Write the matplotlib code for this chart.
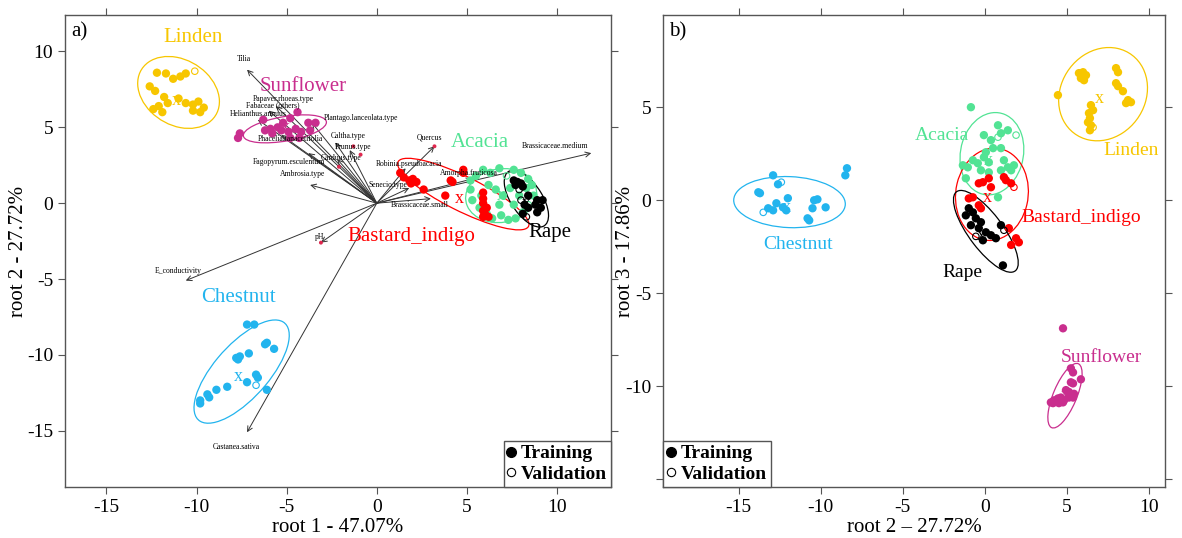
import matplotlib
matplotlib.use("Agg")
import matplotlib.pyplot as plt
from matplotlib.patches import Ellipse
from matplotlib.lines import Line2D

plt.rcParams['font.family'] = ['Liberation Serif', 'DejaVu Serif']
plt.rcParams['axes.unicode_minus'] = False

# colours of the six honey types
colors = {
    "Linden": "#F7C600",
    "Sunflower": "#C92E8E",
    "Acacia": "#52E394",
    "Chestnut": "#22B4EE",
    "Bastard_indigo": "#FF0000",
    "Rape": "#000000",
}

# ---------------- panel a: root 1 vs root 2 ----------------
a_linden_x = [-12.2, -11.7, -11.3, -10.9, -10.6, -12.6, -12.3, -11.8, -11.0, -10.6, -10.2, -9.9, -9.6, -10.2, -9.8, -12.1, -12.4, -11.9, -11.6]
a_linden_y = [8.6, 8.55, 8.2, 8.35, 8.55, 7.7, 7.4, 7.0, 6.9, 6.6, 6.5, 6.7, 6.3, 6.1, 6.0, 6.4, 6.2, 6.0, 6.6]
a_linden_vx = [-10.1]
a_linden_vy = [8.7]

a_sunflower_x = [-4.4, -4.8, -5.2, -5.5, -5.9, -6.2, -5.8, -5.3, -4.9, -4.5, -4.2, -3.8, -3.4, -3.7, -6.3, -4.8, -4.3, -7.7, -7.6]
a_sunflower_y = [6.0, 5.6, 5.3, 5.0, 4.9, 4.8, 4.6, 4.8, 4.7, 4.9, 4.7, 5.3, 5.3, 4.8, 5.5, 4.3, 4.3, 4.3, 4.6]
a_sunflower_vx = []
a_sunflower_vy = []

a_acacia_x = [5.2, 5.5, 5.9, 6.3, 6.8, 7.6, 8.0, 8.4, 8.6, 8.7, 8.1, 7.7, 7.3, 6.9, 6.4, 6.1, 5.7, 5.3, 5.2, 6.2, 6.6, 7.0, 7.4, 7.9, 5.8, 8.3, 6.8, 7.6]
a_acacia_y = [1.5, 1.8, 2.2, 2.0, 2.3, 2.2, 2.0, 1.6, 1.2, 0.5, -0.6, -1.0, -1.1, -0.8, -1.0, -0.7, -0.3, 0.2, 0.9, 1.2, 0.9, 0.5, 1.0, 0.5, 0.5, 1.0, -0.1, -0.1]
a_acacia_vx = [7.2, 8.4]
a_acacia_vy = [1.8, -0.1]

a_chestnut_x = [-7.2, -6.8, -6.1, -6.2, -5.7, -7.1, -7.6, -7.8, -7.7, -6.7, -6.6, -7.2, -6.1, -8.3, -8.9, -9.4, -9.3, -9.8, -9.8]
a_chestnut_y = [-8.0, -8.0, -9.2, -9.3, -9.6, -9.9, -10.1, -10.2, -10.3, -11.3, -11.5, -11.8, -12.3, -12.1, -12.3, -12.6, -12.8, -13.0, -13.2]
a_chestnut_vx = [-6.7]
a_chestnut_vy = [-12.0]

a_bastard_x = [1.3, 1.5, 1.8, 2.0, 2.2, 1.9, 2.6, 4.1, 4.2, 4.8, 4.8, 3.8, 5.9, 5.9, 5.9, 6.1, 5.9, 6.0, 5.9, 6.2]
a_bastard_y = [2.0, 1.7, 1.5, 1.6, 1.4, 1.3, 0.9, 1.5, 1.4, 2.0, 2.2, 0.5, 0.7, 0.3, 0.0, -0.3, -0.5, -0.7, -0.9, -0.9]
a_bastard_vx = []
a_bastard_vy = []

a_rape_x = [7.6, 7.8, 8.0, 7.7, 8.1, 8.4, 8.9, 9.2, 8.8, 9.1, 8.9, 8.2, 8.1, 8.4]
a_rape_y = [1.5, 1.4, 1.3, 1.2, 1.1, 0.5, 0.2, 0.2, -0.1, -0.3, -0.6, -0.1, -0.7, -0.3]
a_rape_vx = [7.9, 8.0, 8.3]
a_rape_vy = [0.9, 0.2, -0.9]

# group centroids (x) and labels
a_center = {"Linden": (-11.1, 6.8), "Sunflower": (-5.1, 5.0), "Acacia": (6.9, 0.5),
            "Chestnut": (-7.7, -11.4), "Bastard_indigo": (4.6, 0.3), "Rape": (8.3, 0.0)}
a_label = {"Linden": (-10.2, 10.9), "Sunflower": (-4.1, 7.7), "Acacia": (5.7, 4.0),
           "Chestnut": (-7.7, -6.2), "Bastard_indigo": (1.9, -2.2), "Rape": (9.6, -1.9)}
# ellipses: center x, center y, semi-major, semi-minor, angle
a_ellipse = {"Linden": (-11.0, 7.3, 2.6, 2.0, -50), "Sunflower": (-5.1, 4.9, 2.35, 0.8, 12),
             "Acacia": (6.9, 0.5, 2.0, 1.75, 20), "Chestnut": (-7.5, -11.1, 4.0, 1.6, 55),
             "Bastard_indigo": (4.8, 0.6, 4.2, 1.1, -31), "Rape": (8.3, 0.3, 2.05, 0.9, -63)}

# variable loadings: name, arrow tip, label position
var_names = ["Tilia", "Papaver.rhoeas.type", "Fabaceae (others)", "Helianthus.annuus",
             "Plantago.lanceolata.type", "Phacelia.tanacetifolia", "Caltha.type", "Prunus.type",
             "Carduus.type", "Fagopyrum.esculentum", "Ambrosia.type", "Quercus",
             "Robinia.pseudoacacia", "Senecio.type", "Amorpha.fruticosa", "Brassicaceae.small",
             "Brassicaceae.medium", "pH", "E_conductivity", "Castanea.sativa"]
var_tip_x = [-7.2, -5.6, -6.0, -6.6, -3.6, -5.3, -2.3, -1.5, -2.2, -3.8, -3.7, 3.2, 1.6, 1.8, 5.3, 3.0, 11.9, -3.1, -10.6, -7.2]
var_tip_y = [8.8, 6.4, 6.1, 5.5, 5.3, 4.5, 4.0, 3.5, 2.9, 3.3, 1.2, 3.75, 2.3, 1.0, 1.6, 0.3, 3.3, -2.6, -5.1, -15.1]
var_lab_x = [-7.4, -5.2, -5.8, -6.6, -0.9, -4.8, -1.6, -1.3, -2.0, -4.9, -4.1, 2.9, 1.8, 0.6, 5.1, 2.4, 9.9, -3.2, -11.0, -7.8]
var_lab_y = [9.5, 6.85, 6.45, 5.9, 5.6, 4.2, 4.4, 3.7, 3.0, 2.7, 1.9, 4.3, 2.6, 1.2, 2.0, -0.1, 3.8, -2.2, -4.5, -16.1]
dot_x = [-3.1, 3.2, -1.3, -0.9, -2.1, 2.6]
dot_y = [-2.6, 3.75, 3.75, 3.2, 2.4, 0.8]

# ---------------- panel b: root 2 vs root 3 ----------------
b_linden_x = [5.73, 5.98, 6.16, 5.85, 6.04, 7.99, 8.11, 7.99, 8.11, 8.41, 8.72, 8.9, 8.6, 6.46, 6.59, 6.34, 6.4, 6.28, 6.46, 6.4, 4.45]
b_linden_y = [6.83, 6.88, 6.72, 6.56, 6.45, 7.1, 6.88, 6.29, 6.13, 5.86, 5.38, 5.27, 5.22, 5.11, 4.84, 4.68, 4.41, 4.19, 4.03, 3.76, 5.65]
b_linden_vx = [6.59]
b_linden_vy = [3.92]

b_sunflower_x = [4.76, 5.24, 5.37, 5.85, 5.24, 5.37, 4.94, 5.12, 4.63, 4.45, 4.21, 4.02, 4.82, 5.12, 5.37, 4.51, 4.15, 5.43, 4.76]
b_sunflower_y = [-6.88, -9.03, -9.25, -9.62, -9.78, -9.84, -10.2, -10.3, -10.6, -10.65, -10.75, -10.86, -10.75, -10.6, -10.6, -10.9, -10.9, -10.4, -10.86]
b_sunflower_vx = []
b_sunflower_vy = []

b_acacia_x = [-0.85, 0.8, 1.4, 0.98, -0.06, 0.37, 0.06, 0.5, 0.98, -0.06, -0.73, -0.43, -1.04, -1.34, 0.24, 1.16, 1.4, 1.77, 0.98, 0.24, -0.24, 1.6, 0.8, -1.16]
b_acacia_y = [5.0, 4.03, 3.76, 3.6, 3.5, 3.23, 2.58, 2.8, 2.8, 2.31, 2.15, 1.99, 1.77, 1.88, 2.04, 2.15, 1.77, 1.88, 1.61, 1.5, 1.61, 1.61, 0.16, 1.18]
b_acacia_vx = [1.9, 0.8]
b_acacia_vy = [3.5, 3.39]

b_chestnut_x = [-12.9, -12.6, -13.8, -13.7, -12.0, -12.7, -12.3, -12.1, -13.2, -12.9, -10.4, -10.2, -10.5, -9.7, -10.8, -10.7, -8.4, -8.5]
b_chestnut_y = [1.34, 0.86, 0.43, 0.38, 0.11, -0.16, -0.38, -0.54, -0.43, -0.54, 0.0, 0.05, -0.43, -0.38, -0.97, -1.08, 1.72, 1.34]
b_chestnut_vx = [-12.4, -13.5]
b_chestnut_vy = [0.97, -0.65]

b_bastard_x = [0.24, -0.12, -0.37, 1.16, 1.28, 1.6, 0.37, -0.73, -0.98, -0.37, -0.24, 1.46, 1.9, 2.07, 1.6]
b_bastard_y = [1.18, 0.97, 0.91, 1.24, 1.08, 0.91, 0.7, 0.16, 0.1, -0.27, -0.43, -1.5, -2.04, -2.26, -2.4]
b_bastard_vx = [1.77]
b_bastard_vy = [0.7]

b_rape_x = [-0.98, -0.73, -1.16, -0.55, -0.24, -0.85, -0.37, 0.06, 0.37, 0.67, -0.12, 0.98, 1.1]
b_rape_y = [-0.43, -0.65, -0.81, -0.97, -1.18, -1.34, -1.5, -1.72, -1.88, -2.04, -2.15, -1.34, -3.5]
b_rape_vx = [1.16, -0.55]
b_rape_vy = [-1.61, -1.94]

b_center = {"Linden": (6.95, 5.48), "Sunflower": (4.9, -10.5), "Acacia": (0.24, 2.15),
            "Chestnut": (-12.1, -0.4), "Bastard_indigo": (0.18, 0.16), "Rape": (-0.24, -1.88)}
b_label = {"Linden": (8.9, 2.7), "Sunflower": (7.07, -8.44), "Acacia": (-2.6, 3.5),
           "Chestnut": (-11.4, -2.4), "Bastard_indigo": (5.85, -0.9), "Rape": (-1.34, -3.9)}
b_ellipse = {"Linden": (7.2, 5.7, 2.8, 2.4, 30), "Sunflower": (4.88, -10.5, 1.9, 0.7, 64),
             "Acacia": (0.43, 2.5, 2.25, 1.9, 70), "Chestnut": (-11.9, -0.1, 3.4, 1.37, -2),
             "Bastard_indigo": (0.43, 0.32, 2.5, 2.2, 75), "Rape": (0.06, -1.67, 2.78, 1.0, -49)}

ticks = [-15, -10, -5, 0, 5, 10]
a_yticklabels = ["-15", "-10", "-5", "0", "5", "10"]
b_yticks = [-15, -10, -5, 0, 5]
b_yticklabels = ["", "-10", "-5", "0", "5"]


def draw_groups(ax, pts, centers, labels, ellipses, label_size):
    for name, (tx, ty, vx, vy) in pts.items():
        c = colors[name]
        ax.scatter(tx, ty, s=36, color=c, edgecolors='none', zorder=3)
        ax.scatter(vx, vy, s=22, facecolors='none', edgecolors=c, linewidths=0.8, zorder=3)
        cx, cy, a, b, ang = ellipses[name]
        ax.add_patch(Ellipse((cx, cy), 2 * a, 2 * b, angle=ang, fill=False,
                             edgecolor=c, lw=0.9, zorder=2))
        ax.text(*centers[name], "x", color=c, fontsize=13, ha='center', va='center', zorder=4)
        ax.text(*labels[name], name, color=c, fontsize=label_size, ha='center', va='center', zorder=4)


def style_axes(ax, xlim, ylim, yticks, yticklabels, xlabel, ylabel, tag, ylab_x):
    ax.set_xlim(xlim)
    ax.set_ylim(ylim)
    ax.set_xticks(ticks)
    ax.set_xticklabels([str(t) for t in ticks])
    ax.set_yticks(yticks)
    ax.set_yticklabels(yticklabels)
    ax.tick_params(direction='out', length=5, width=0.8, color='#555555', labelsize=14,
                   top=True, right=True, labeltop=False, labelright=False)
    for s in ax.spines.values():
        s.set_color('#555555')
        s.set_linewidth(1.0)
    ax.set_xlabel(xlabel, fontsize=15, labelpad=2)
    ax.set_ylabel(ylabel, fontsize=15)
    ax.yaxis.set_label_coords(ylab_x, 0.5)
    ax.text(0.012, 0.985, tag, transform=ax.transAxes, fontsize=15, ha='left', va='top')


def legend(ax, loc):
    handles = [Line2D([], [], marker='o', ls='', color='black', markersize=7),
               Line2D([], [], marker='o', ls='', markerfacecolor='white', markeredgecolor='black',
                      markersize=6, markeredgewidth=0.8)]
    leg = ax.legend(handles, ["Training", "Validation"], loc=loc, borderaxespad=0,
                    prop={'weight': 'bold', 'size': 14}, handlelength=0.4, handletextpad=0.3,
                    borderpad=0.2, labelspacing=0.15, fancybox=False, framealpha=1)
    leg.get_frame().set_edgecolor('#555555')
    leg.get_frame().set_linewidth(1.0)


def main():
    fig = plt.figure(figsize=(11.82, 5.38), dpi=100)
    ax1 = fig.add_axes([0.055, 0.095, 0.462, 0.877])
    ax2 = fig.add_axes([0.561, 0.095, 0.425, 0.877])

    # panel a
    for i, name in enumerate(var_names):
        ax1.annotate("", xy=(var_tip_x[i], var_tip_y[i]), xytext=(0, 0),
                     arrowprops=dict(arrowstyle='->', color='#333333', lw=0.7,
                                     mutation_scale=9, shrinkA=0, shrinkB=0), zorder=1)
        ax1.text(var_lab_x[i], var_lab_y[i], name, fontsize=5.5, ha='center', va='center', zorder=5)
    ax1.scatter(dot_x, dot_y, s=8, color='#E0284F', edgecolors='none', zorder=3)

    pts_a = {
        "Linden": (a_linden_x, a_linden_y, a_linden_vx, a_linden_vy),
        "Sunflower": (a_sunflower_x, a_sunflower_y, a_sunflower_vx, a_sunflower_vy),
        "Acacia": (a_acacia_x, a_acacia_y, a_acacia_vx, a_acacia_vy),
        "Chestnut": (a_chestnut_x, a_chestnut_y, a_chestnut_vx, a_chestnut_vy),
        "Bastard_indigo": (a_bastard_x, a_bastard_y, a_bastard_vx, a_bastard_vy),
        "Rape": (a_rape_x, a_rape_y, a_rape_vx, a_rape_vy),
    }
    draw_groups(ax1, pts_a, a_center, a_label, a_ellipse, 15)
    style_axes(ax1, (-17.3, 13.0), (-18.7, 12.4), ticks, a_yticklabels,
               "root 1 - 47.07%", "root 2 - 27.72%", "a)", -0.068)
    legend(ax1, 'lower right')

    # panel b
    pts_b = {
        "Linden": (b_linden_x, b_linden_y, b_linden_vx, b_linden_vy),
        "Sunflower": (b_sunflower_x, b_sunflower_y, b_sunflower_vx, b_sunflower_vy),
        "Acacia": (b_acacia_x, b_acacia_y, b_acacia_vx, b_acacia_vy),
        "Chestnut": (b_chestnut_x, b_chestnut_y, b_chestnut_vx, b_chestnut_vy),
        "Bastard_indigo": (b_bastard_x, b_bastard_y, b_bastard_vx, b_bastard_vy),
        "Rape": (b_rape_x, b_rape_y, b_rape_vx, b_rape_vy),
    }
    draw_groups(ax2, pts_b, b_center, b_label, b_ellipse, 14)
    style_axes(ax2, (-19.6, 11.0), (-15.4, 9.95), b_yticks, b_yticklabels,
               "root 2 \u2013 27.72%", "root 3 - 17.86%", "b)", -0.056)
    legend(ax2, 'lower left')

    fig.savefig("out.png", dpi=100)
    plt.close(fig)


if __name__ == '__main__':
    main()
